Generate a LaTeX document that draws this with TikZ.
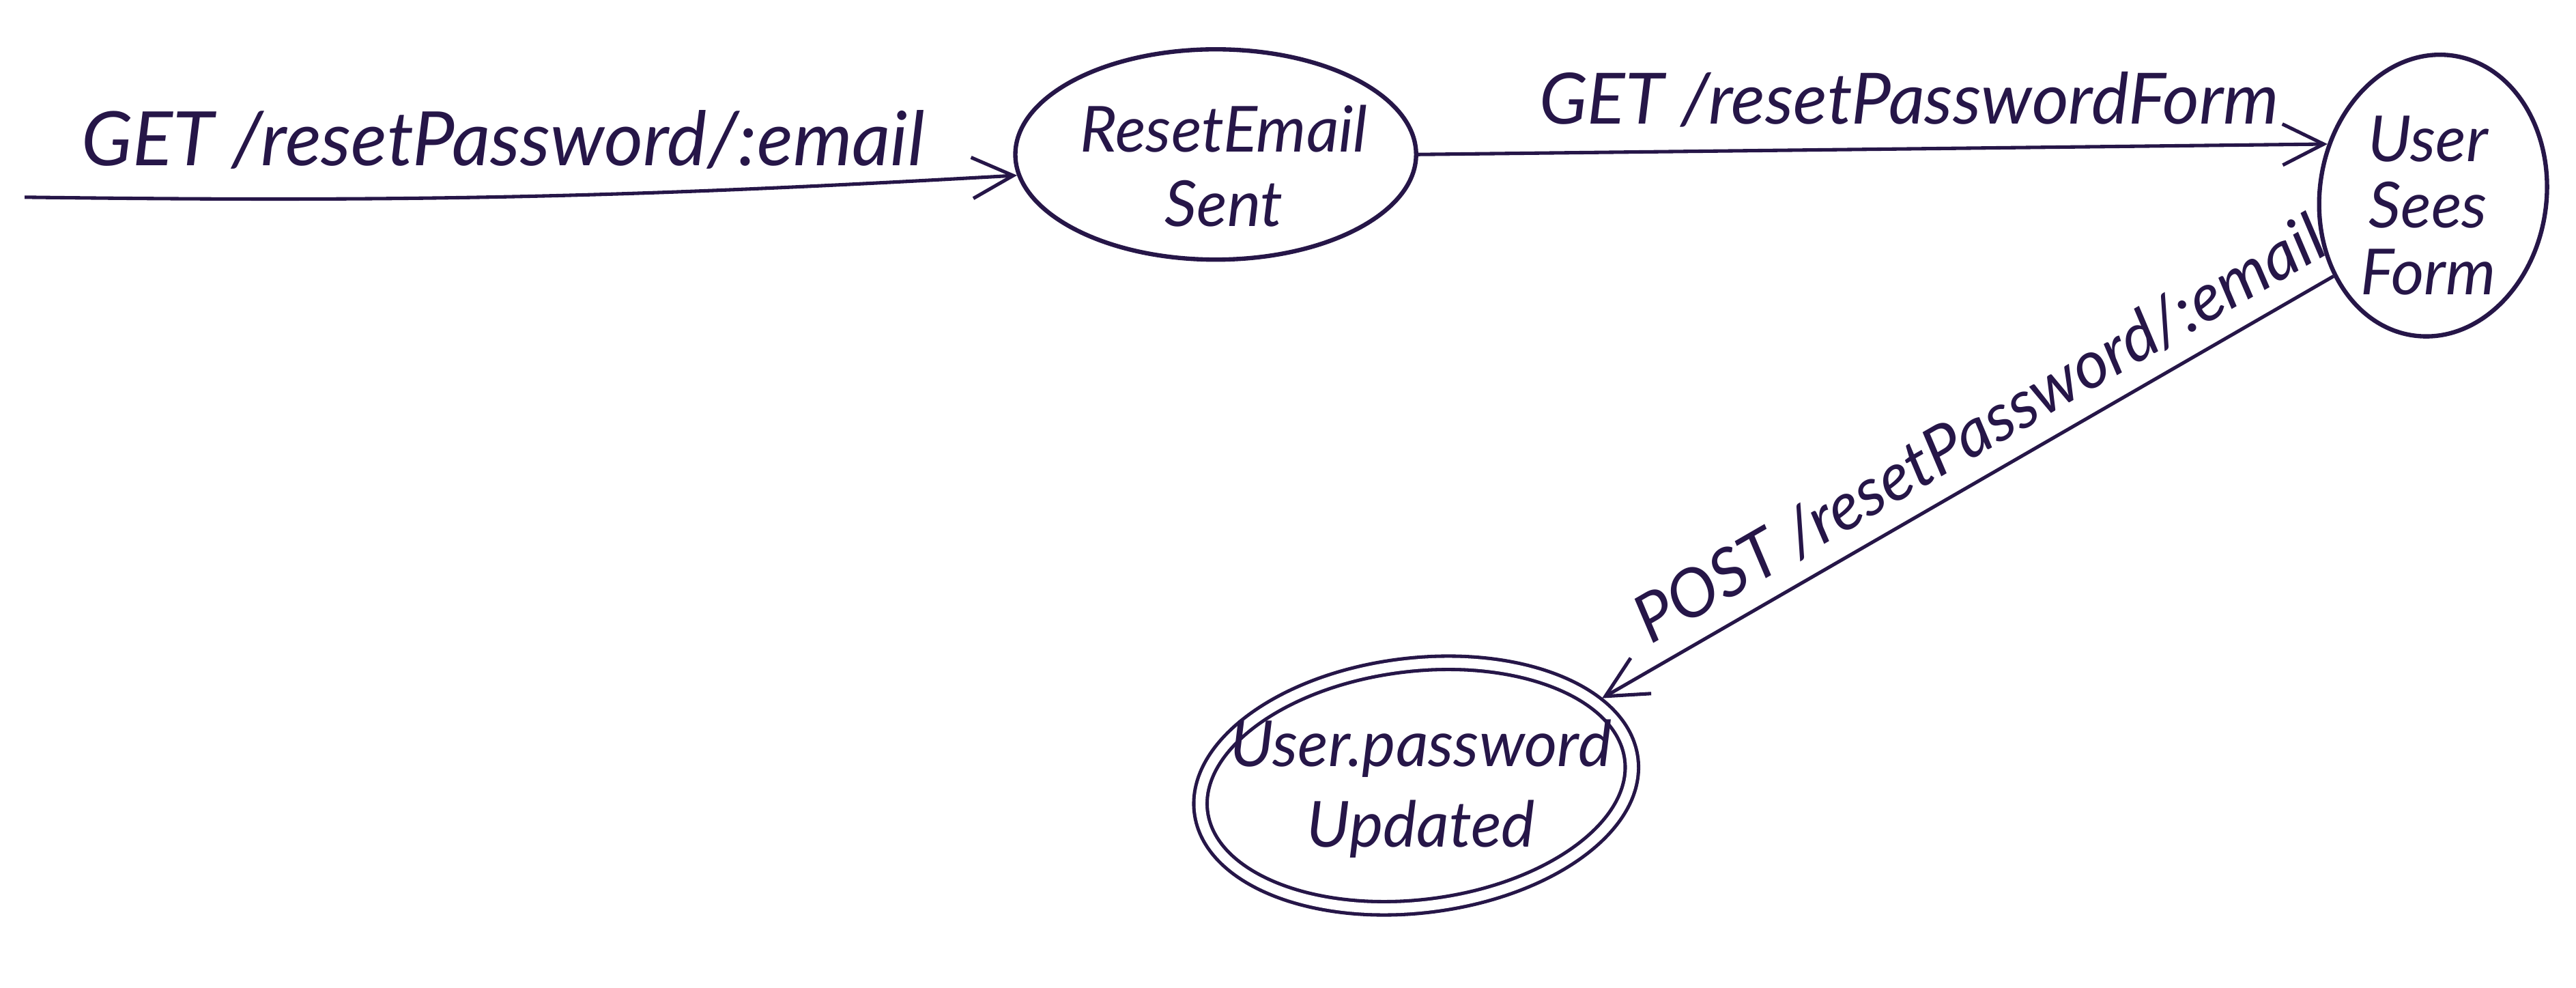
\documentclass[tikz,border=0pt]{standalone}
\usepackage{fontspec}
\setmainfont{Lato}
\usetikzlibrary{shapes.geometric,arrows.meta}
\definecolor{ink}{RGB}{38,22,72}
\begin{document}
\begin{tikzpicture}[x=0.02cm,y=-0.02cm,
  state/.style={ellipse, draw=ink, line width=1.5pt, inner sep=0pt},
  finalstate/.style={ellipse, draw=ink, line width=1.2pt, double=white, double distance=0.12cm, inner sep=0pt},
  statetext/.style={text=ink, font=\fontsize{22}{26}\selectfont\itshape, align=center, inner sep=0pt},
  edgetext/.style={text=ink, font=\fontsize{26}{30}\selectfont\itshape, inner sep=2pt},
  trans/.style={draw=ink, line width=1.2pt, -{Straight Barb[length=0.5cm,width=0.5cm]}}]
\useasboundingbox[fill=white] (0,0) rectangle (1568,601);

\node[state, minimum width=4.88cm, minimum height=2.56cm] (res) at (740,94) {};
\node[statetext] (restext) at (745,101) {ResetEmail\\Sent};

\node[state, rotate=-8, minimum width=2.76cm, minimum height=3.44cm] (usf) at (1481,119) {};
\node[statetext, font=\fontsize{22}{23}\selectfont\itshape] (usftext) at (1478,125) {User\\Sees\\Form};

\node[finalstate, rotate=7, minimum width=5.28cm, minimum height=2.94cm] (upd) at (862,478) {};
\node[statetext, font=\fontsize{22}{28}\selectfont\itshape] (updtext) at (865,480) {User.password\\Updated};

\coordinate (start) at (15,120);

\draw[trans] (start) to[bend right=2] node[edgetext, above=7pt, pos=0.48] (l1) {GET /resetPassword/:email} (res.186);
\draw[trans] (res.east) -- node[edgetext, font=\fontsize{24.5}{28}\selectfont\itshape, above=5pt, pos=0.54] (l2) {GET /resetPasswordForm} (usf.162);
\draw[trans, shorten >=0.08cm] (usf.227) -- node[edgetext, font=\fontsize{23}{27}\selectfont\itshape, sloped, above=4pt, pos=0.45] (l3) {POST /resetPassword/:email} (upd.18);
\end{tikzpicture}
\end{document}
